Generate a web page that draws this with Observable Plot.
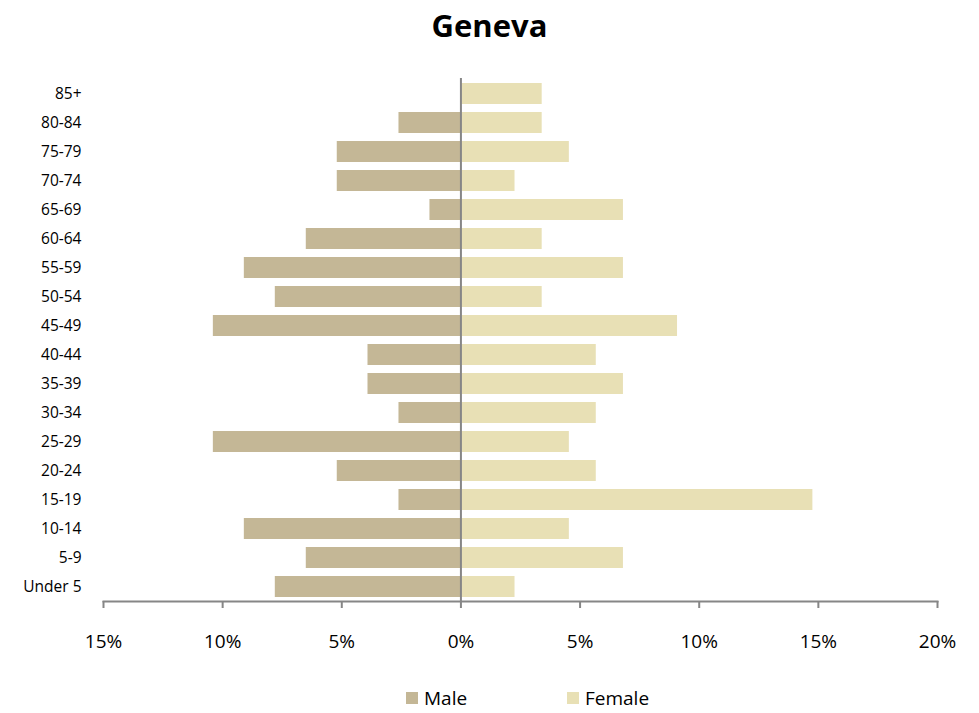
<!DOCTYPE html>
<html><head><meta charset="utf-8">
<script src="https://cdn.jsdelivr.net/npm/d3@7"></script>
<script src="https://cdn.jsdelivr.net/npm/@observablehq/plot@0.6"></script>
<style>
body{margin:0;background:#fff;font-family:"Open Sans",sans-serif;}
#wrap{width:979px;height:713px;position:relative;}
#title{position:absolute;top:0;left:0;width:979px;text-align:center;font-weight:bold;font-size:31px;line-height:50px;color:#000;}
#chart{position:absolute;top:50px;left:0;}
#legend{position:absolute;top:684px;left:0;width:979px;font-size:19px;color:#000;}
.item{position:absolute;top:0;display:flex;align-items:center;height:28px}
.sw{width:12px;height:12px;margin-right:6px}
</style></head>
<body><div id="wrap">
<div id="title">Geneva</div>
<div id="chart"></div>
<div id="legend">
<div class="item" style="left:406px"><div class="sw" style="background:#C4B796"></div>Male</div>
<div class="item" style="left:567px"><div class="sw" style="background:#E8E0B5"></div>Female</div>
</div>
</div>
<script>
const ageGroups = ["85+","80-84","75-79","70-74","65-69","60-64","55-59","50-54","45-49","40-44","35-39","30-34","25-29","20-24","15-19","10-14","5-9","Under 5"];
const malePct = [0, 2.6, 5.19, 5.19, 1.3, 6.49, 9.09, 7.79, 10.39, 3.9, 3.9, 2.6, 10.39, 5.19, 2.6, 9.09, 6.49, 7.79];
const femalePct = [3.41, 3.41, 4.55, 2.27, 6.82, 3.41, 6.82, 3.41, 9.09, 5.68, 6.82, 5.68, 4.55, 5.68, 14.77, 4.55, 6.82, 2.27];
const xTicks = [-15,-10,-5,0,5,10,15,20];

const rows = [];
ageGroups.forEach((g,i)=>{
  rows.push({age:g, sex:"Male", value:-malePct[i]});
  rows.push({age:g, sex:"Female", value:femalePct[i]});
});

const chart = Plot.plot({
  width: 979,
  height: 615,
  marginLeft: 103,
  marginRight: 42,
  marginTop: 28,
  marginBottom: 64,
  style: {fontFamily: "'Open Sans', sans-serif", background: "#fff", color: "#000"},
  x: {domain: [-15, 20], ticks: xTicks, label: null},
  y: {domain: ageGroups, paddingInner: 0.28, paddingOuter: 0.1, label: null},
  color: {domain: ["Male","Female"], range: ["#C4B796","#E8E0B5"]},
  marks: [
    Plot.barX(rows, {x: "value", y: "age", fill: "sex"}),
    Plot.ruleX([0], {stroke: "#868686", strokeWidth: 2}),
    Plot.frame({anchor: "bottom", stroke: "#868686", strokeWidth: 2}),
    Plot.axisX({ticks: xTicks, tickSize: 7, stroke: "#868686", strokeWidth: 2, tickPadding: 26, fontSize: 19, fill: "#000", label: null, tickFormat: d => Math.abs(d) + "%"}),
    Plot.axisY({tickSize: 0, tickPadding: 22, fontSize: 15.5, fill: "#000", label: null})
  ]
});
document.getElementById("chart").appendChild(chart);
</script>
</body></html>
